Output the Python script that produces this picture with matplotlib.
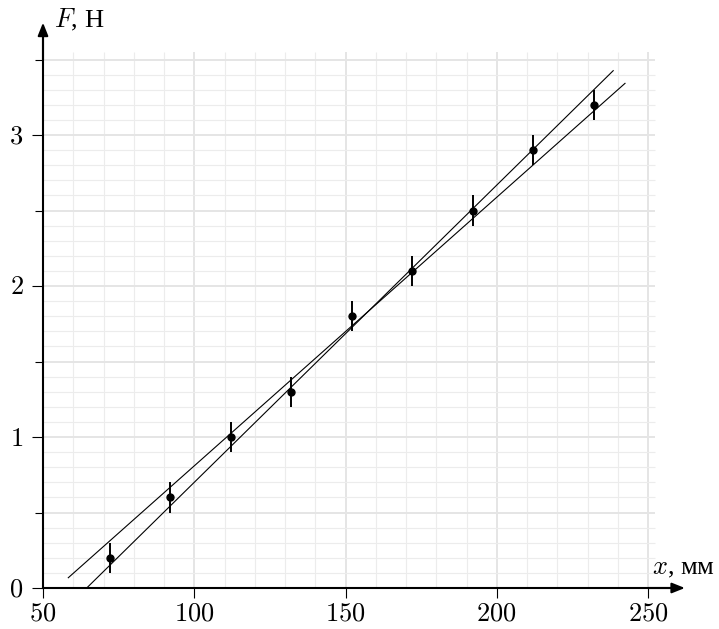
import matplotlib
matplotlib.use("Agg")
import matplotlib.pyplot as plt
import numpy as np

plt.rcParams["mathtext.fontset"] = "cm"
plt.rcParams["font.family"] = ["Liberation Serif", "DejaVu Serif"]

# measurements
x_mm = [72, 92, 112, 132, 152, 172, 192, 212, 232]
F_N = [0.2, 0.6, 1.0, 1.3, 1.8, 2.1, 2.5, 2.9, 3.2]
F_err = [0.1] * len(x_mm)

# the two bounding lines (endpoints)
steep_x = [64.45, 238.5]
steep_F = [0.0, 3.426]
shallow_x = [58.36, 242.4]
shallow_F = [0.068, 3.342]

x_ticks = [50, 100, 150, 200, 250]
F_ticks = [0, 1, 2, 3]
F_minor_ticks = [0.5, 1.5, 2.5, 3.5]

fig = plt.figure(figsize=(7.19, 6.29), dpi=100)
ax = fig.add_axes([0, 0, 1, 1])
ax.set_xlim(50 - 43 / 3.025, 50 + (719 - 43) / 3.025)
ax.set_ylim(-41 / 151, 588 / 151)

# grid
grid_top, grid_right = 3.55, 252.3
minor_col, major_col = "#ececec", "#e5e5e5"
for xv in np.arange(60, 251, 10):
    major = xv % 50 == 0
    ax.vlines(xv, 0, grid_top, color=major_col if major else minor_col,
              lw=1.4 if major else 0.8, zorder=0)
for yv in np.arange(1, 36) / 10:
    major = round(yv * 10) % 5 == 0
    ax.hlines(yv, 50, grid_right, color=major_col if major else minor_col,
              lw=1.4 if major else 0.8, zorder=0)

# axes with arrows
for side in ("top", "right"):
    ax.spines[side].set_visible(False)
ax.spines["bottom"].set_position(("data", 0))
ax.spines["left"].set_position(("data", 50))
ax.spines["bottom"].set_bounds(50, 258)
ax.spines["left"].set_bounds(0, 3.7)
for side in ("bottom", "left"):
    ax.spines[side].set_linewidth(1.5)
arrow = dict(arrowstyle="-|>,head_length=0.55,head_width=0.22", color="black",
             lw=1.5, mutation_scale=14, shrinkA=0, shrinkB=0)
ax.annotate("", xy=(262.2, 0), xytext=(250, 0), arrowprops=arrow)
ax.annotate("", xy=(50, 3.744), xytext=(50, 3.5), arrowprops=arrow)

ax.set_xticks(x_ticks, labels=[f"${t}$" for t in x_ticks])
ax.set_yticks(F_ticks, labels=[f"${t}$" for t in F_ticks])
ax.set_yticks(F_minor_ticks, minor=True)
ax.tick_params(axis="x", direction="out", length=7.5, width=0.8, pad=4, labelsize=19)
ax.tick_params(axis="y", which="major", direction="out", length=8, width=0.8,
               pad=6, labelsize=19)
ax.tick_params(axis="y", which="minor", direction="out", length=6, width=0.8)

ax.text(53.5, 3.71, "$F$, Н", fontsize=19, ha="left", va="baseline")
ax.text(251.3, 0.093, "$x$, мм", fontsize=19, ha="left", va="baseline")

# fit lines and data
ax.plot(steep_x, steep_F, color="black", lw=0.8, zorder=3)
ax.plot(shallow_x, shallow_F, color="black", lw=0.8, zorder=3)
ax.errorbar(x_mm, F_N, yerr=F_err, fmt="o", color="black", ms=5,
            elinewidth=1.4, capsize=0, zorder=4)

fig.savefig("out.png", dpi=100)
